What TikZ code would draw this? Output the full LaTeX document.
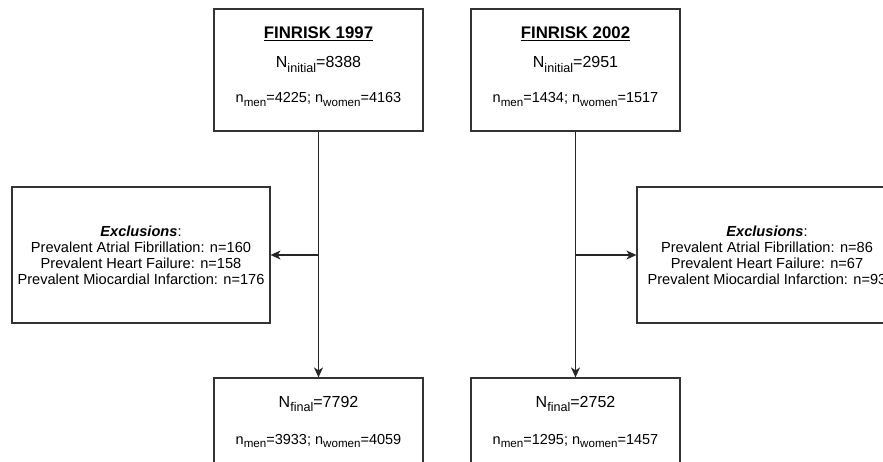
\documentclass[tikz,border=0pt]{standalone}
\usepackage{fontspec}
\setmainfont{Liberation Sans}
\usetikzlibrary{arrows.meta}
\newcommand{\subA}[1]{\raisebox{-0.27em}{\fontsize{12.6}{14}\selectfont #1}}
\newcommand{\subB}[1]{\raisebox{-0.27em}{\fontsize{11.6}{13}\selectfont #1}}
\tikzset{
  box/.style={draw=black!80, line width=1.2pt, rectangle, inner sep=0pt},
  bigbox/.style={box, minimum width=209pt, minimum height=122pt},
  exbox/.style={box, minimum width=258pt, minimum height=136pt, align=center,
                font=\fontsize{14.6}{16}\selectfont},
  title/.style={anchor=base, font=\bfseries\fontsize{16.8}{19}\selectfont},
  bigline/.style={anchor=base, font=\fontsize{16}{18}\selectfont},
  countline/.style={anchor=base, font=\fontsize{14.5}{17}\selectfont},
  conn/.style={draw=black!85, line width=1.2pt, -{Stealth[length=10pt,width=9pt,inset=3pt]}}
}
\begin{document}
\begin{tikzpicture}[x=1pt,y=-1pt]
\useasboundingbox (0,0) rectangle (883,462);
\clip (0,0) rectangle (883,462);
\fill[white] (0,0) rectangle (883,462);
% top boxes
\node[bigbox] (top1) at (318.5,70) {};
\node[bigbox] (top2) at (575.5,70) {};
\node[title] (t1) at (318.5,39) {\underline{FINRISK 1997}};
\node[bigline] (ni1) at (318.5,68) {N\subA{initial}=8388};
\node[countline] (c1) at (318.5,103) {n\subB{men}=4225; n\subB{women}=4163};
\node[title] (t2) at (575.5,39) {\underline{FINRISK 2002}};
\node[bigline] (ni2) at (575.5,68) {N\subA{initial}=2951};
\node[countline] (c2) at (575.5,103) {n\subB{men}=1434; n\subB{women}=1517};
% exclusion boxes
\node[exbox] (ex1) at (141,255) {\textbf{\textit{Exclusions}}:\\Prevalent Atrial Fibrillation: n=160\\Prevalent Heart Failure: n=158\\Prevalent Miocardial Infarction: n=176};
\node[exbox, minimum width=260pt] (ex2) at (767,255) {\textbf{\textit{Exclusions}}:\\Prevalent Atrial Fibrillation: n=86\\Prevalent Heart Failure: n=67\\Prevalent Miocardial Infarction: n=93};
% final boxes
\node[bigbox] (fin1) at (318.5,439) {};
\node[bigbox] (fin2) at (575.5,439) {};
\node[bigline] (nf1) at (318.5,407) {N\subA{final}=7792};
\node[countline] (cf1) at (318.5,444) {n\subB{men}=3933; n\subB{women}=4059};
\node[bigline] (nf2) at (575.5,407) {N\subA{final}=2752};
\node[countline] (cf2) at (575.5,444) {n\subB{men}=1295; n\subB{women}=1457};
% connectors
\draw[conn] (top1.south) -- (fin1.north);
\draw[conn] (top2.south) -- (fin2.north);
\coordinate (j1) at (top1.south |- ex1.east);
\coordinate (j2) at (top2.south |- ex2.west);
\draw[conn] (j1) -- (ex1.east);
\draw[conn] (j2) -- (ex2.west);
\end{tikzpicture}
\end{document}
